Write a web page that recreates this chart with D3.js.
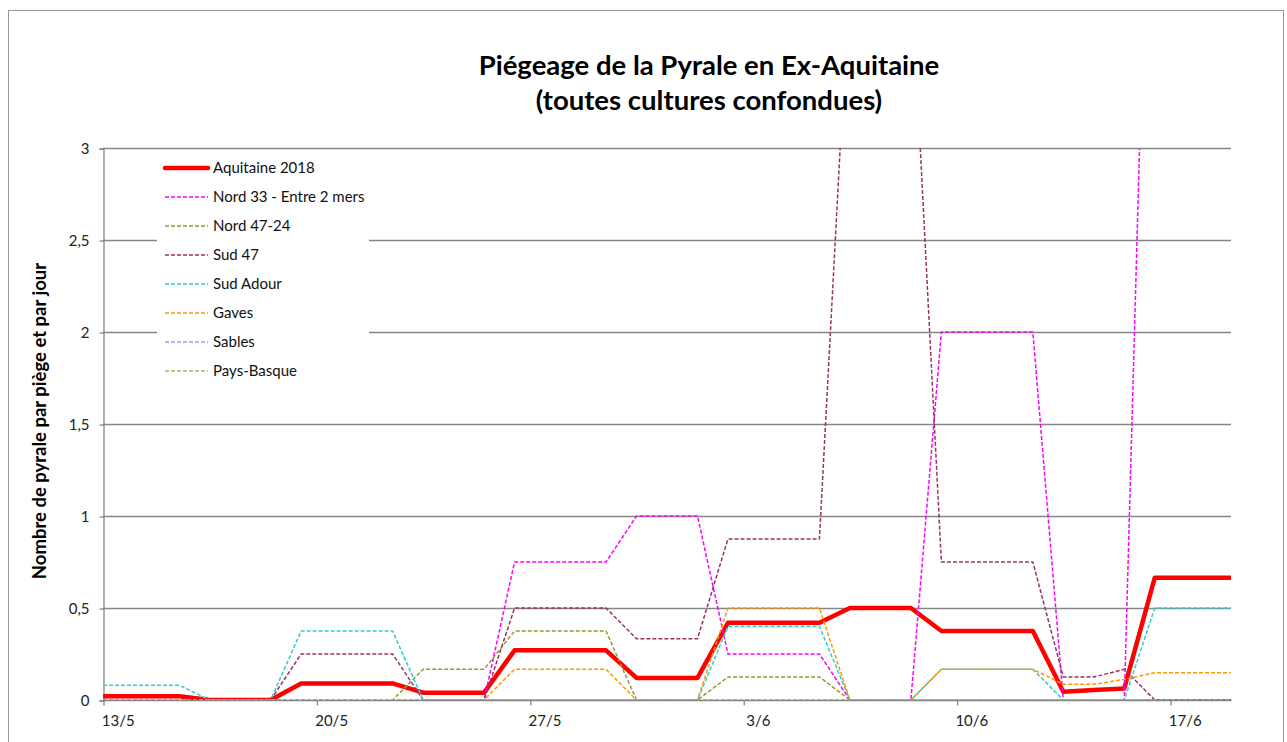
<!DOCTYPE html>
<html><head><meta charset="utf-8">
<script src="https://cdn.jsdelivr.net/npm/d3@7"></script>
<style>html,body{margin:0;padding:0;background:#fff;}svg{display:block;}</style>
</head><body>
<svg id="chart" width="1287" height="742"></svg>
<script>
// ---- data ----
const startDay = "2018-05-13"; // first daily value (13/5), one value per day up to 18/6
const seriesNames = ["Aquitaine 2018","Nord 33 - Entre 2 mers","Nord 47-24","Sud 47","Sud Adour","Gaves","Sables","Pays-Basque"];
const seriesColors = ["#FF0000","#FF00FF","#999933","#993366","#33CCCC","#FF9900","#9999FF","#9BBB59"];
//                 13/5 ..15/5 | 16-18/5 | 19-22/5            | 23-25/5        | 26-29/5               | 30/5-1/6        | 2-5/6                 | 6-8/6       | 9-12/6                   | 13-15/6            | 16-18/6
const aquitaine = [0.02,0.02,0.02, 0,0,0, 0.09,0.09,0.09,0.09, 0.04,0.04,0.04, 0.27,0.27,0.27,0.27, 0.12,0.12,0.12, 0.42,0.42,0.42,0.42, 0.5,0.5,0.5, 0.375,0.375,0.375,0.375, 0.045,0.054,0.063, 0.665,0.665,0.665];
const nord33    = [0,0,0, 0,0,0, 0,0,0,0, 0,0,0, 0.75,0.75,0.75,0.75, 1,1,1, 0.25,0.25,0.25,0.25, 0,0,0, 2,2,2,2, 0,0,0, 6,6,6];
const nord4724  = [0,0,0, 0,0,0, 0,0,0,0, 0.167,0.167,0.167, 0.375,0.375,0.375,0.375, 0,0,0, 0.125,0.125,0.125,0.125, 0,0,0, 0,0,0,0, 0,0,0, 0,0,0];
const sud47     = [0,0,0, 0,0,0, 0.25,0.25,0.25,0.25, 0,0,0, 0.5,0.5,0.5,0.5, 0.333,0.333,0.333, 0.875,0.875,0.875,0.875, 4,4,4, 0.75,0.75,0.75,0.75, 0.125,0.125,0.167, 0,0,0];
const sudAdour  = [0.08,0.08,0.08, 0,0,0, 0.375,0.375,0.375,0.375, 0,0,0, 0,0,0,0, 0,0,0, 0.4,0.4,0.4,0.4, 0,0,0, 0.167,0.167,0.167,0.167, 0,0,0, 0.5,0.5,0.5];
const gaves     = [0,0,0, 0,0,0, 0,0,0,0, 0,0,0, 0.167,0.167,0.167,0.167, 0,0,0, 0.5,0.5,0.5,0.5, 0,0,0, 0.167,0.167,0.167,0.167, 0.085,0.085,0.112, 0.148,0.148,0.148];
const sables    = [0,0,0, 0,0,0, 0,0,0,0, 0,0,0, 0,0,0,0, 0,0,0, 0,0,0,0, 0,0,0, 0,0,0,0, 0,0,0, 0,0,0];
const paysBasque= [0,0,0, 0,0,0, 0,0,0,0, 0,0,0, 0,0,0,0, 0,0,0, 0,0,0,0, 0,0,0, 0,0,0,0, 0,0,0, 0,0,0];
const seriesValues = [aquitaine,nord33,nord4724,sud47,sudAdour,gaves,sables,paysBasque];
const yTicks = [0,0.5,1,1.5,2,2.5,3];
const yTickLabels = ["0","0,5","1","1,5","2","2,5","3"];
const xTickLabels = ["13/5","20/5","27/5","3/6","10/6","17/6"];
const titleLines = ["Piégeage de la Pyrale en Ex-Aquitaine","(toutes cultures confondues)"];
const yAxisTitle = "Nombre de pyrale par piège et par jour";

// ---- layout ----
const svg = d3.select("#chart");
const FONT = "Lato, 'Open Sans', sans-serif";
const plot = {left:103, right:1231, top:148, bottom:700};
const day0 = d3.timeParse("%Y-%m-%d")(startDay);
const nDays = aquitaine.length;
const x = d3.scaleTime().domain([day0, d3.timeDay.offset(day0, nDays)]).range([plot.left, plot.right]);
const y = d3.scaleLinear().domain([0,3]).range([plot.bottom, plot.top]);
const dates = d3.range(nDays).map(i => d3.timeDay.offset(day0, i));
const mid = d => d3.timeHour.offset(d, 12);

svg.append("rect").attr("width",1287).attr("height",742).attr("fill","#fff");
svg.append("rect").attr("x",8.5).attr("y",10.5).attr("width",1275).attr("height",760)
  .attr("fill","none").attr("stroke","#999").attr("stroke-width",1);

// title
svg.append("text").attr("x",709).attr("y",75).attr("text-anchor","middle")
  .attr("font-family",FONT).attr("font-weight","bold").attr("font-size",27.5).attr("fill","#000")
  .selectAll("tspan").data(titleLines).join("tspan")
  .attr("x",709).attr("dy",(d,i)=> i?35:0).text(d=>d);

// gridlines
svg.append("g").selectAll("line").data(yTicks.filter(v=>v>0)).join("line")
  .attr("x1",plot.left).attr("x2",plot.right).attr("y1",d=>y(d)+0.5).attr("y2",d=>y(d)+0.5)
  .attr("stroke","#868686").attr("stroke-width",1.3);

// y axis
const yAxis = d3.axisLeft(y).tickValues(yTicks).tickSize(4).tickPadding(10)
  .tickFormat((d,i)=>yTickLabels[i]);
const gy = svg.append("g").attr("transform",`translate(${plot.left+0.5},0.5)`).call(yAxis);
gy.select(".domain").attr("stroke","#868686").attr("stroke-width",1.3);
gy.selectAll(".tick line").attr("stroke","#868686").attr("stroke-width",1.3);
gy.selectAll("text").attr("font-family",FONT).attr("font-size",15).attr("fill","#222");

// x axis
const xTickDates = d3.range(xTickLabels.length).map(i=>d3.timeDay.offset(day0, 7*i));
const xAxis = d3.axisBottom(x).tickValues(xTickDates).tickSize(5).tickFormat("");
const gx = svg.append("g").attr("transform",`translate(0.5,${plot.bottom+0.5})`).call(xAxis);
gx.select(".domain").attr("d",`M${plot.left},0H${plot.right}`).attr("stroke","#868686").attr("stroke-width",1.3);
gx.selectAll(".tick line").attr("stroke","#868686").attr("stroke-width",1.3);
svg.append("g").selectAll("text").data(xTickDates).join("text")
  .attr("x",d=>x(mid(d))).attr("y",726).attr("text-anchor","middle")
  .attr("font-family",FONT).attr("font-size",15).attr("fill","#222")
  .text((d,i)=>xTickLabels[i]);

// y axis title
svg.append("text").attr("transform","translate(46,421) rotate(-90)").attr("text-anchor","middle")
  .attr("font-family",FONT).attr("font-weight","bold").attr("font-size",18.5).attr("fill","#000")
  .text(yAxisTitle);

// legend background (drawn over gridlines, under the data)
svg.append("rect").attr("x",157).attr("y",153).attr("width",212).attr("height",232).attr("fill","#fff");

// series
svg.append("clipPath").attr("id","clip").append("rect")
  .attr("x",plot.left).attr("y",plot.top).attr("width",plot.right-plot.left).attr("height",plot.bottom-plot.top);
const line = d3.line().x(d=>x(d.t)).y(d=>y(d.v));
const gs = svg.append("g").attr("clip-path","url(#clip)");
seriesValues.forEach((vals,si)=>{
  const pts = dates.map((d,i)=>({t:mid(d), v:vals[i]}));
  // extend flat to the plot edges like the source chart
  pts.unshift({t:x.domain()[0], v:vals[0]});
  pts.push({t:x.domain()[1], v:vals[vals.length-1]});
  const p = gs.append("path").datum(pts).attr("d",line).attr("fill","none")
    .attr("stroke",seriesColors[si]).attr("stroke-linejoin","round");
  if(si===0) p.attr("stroke-width",4.5);
  else p.attr("stroke-width",1.5).attr("stroke-dasharray","4,2");
});

// legend
const lg = svg.append("g").selectAll("g").data(seriesNames).join("g")
  .attr("transform",(d,i)=>`translate(0,${168+29*i})`);
lg.append("line").attr("x1",165).attr("x2",208).attr("y1",0).attr("y2",0)
  .attr("stroke",(d,i)=>seriesColors[i]).attr("stroke-width",(d,i)=>i?1.5:4.5)
  .attr("stroke-dasharray",(d,i)=>i?"4,2":null).attr("stroke-linecap",(d,i)=>i?"butt":"round");
lg.append("text").attr("x",213).attr("y",5).attr("font-family",FONT).attr("font-size",15).attr("fill","#111")
  .text(d=>d);
</script>
</body></html>
